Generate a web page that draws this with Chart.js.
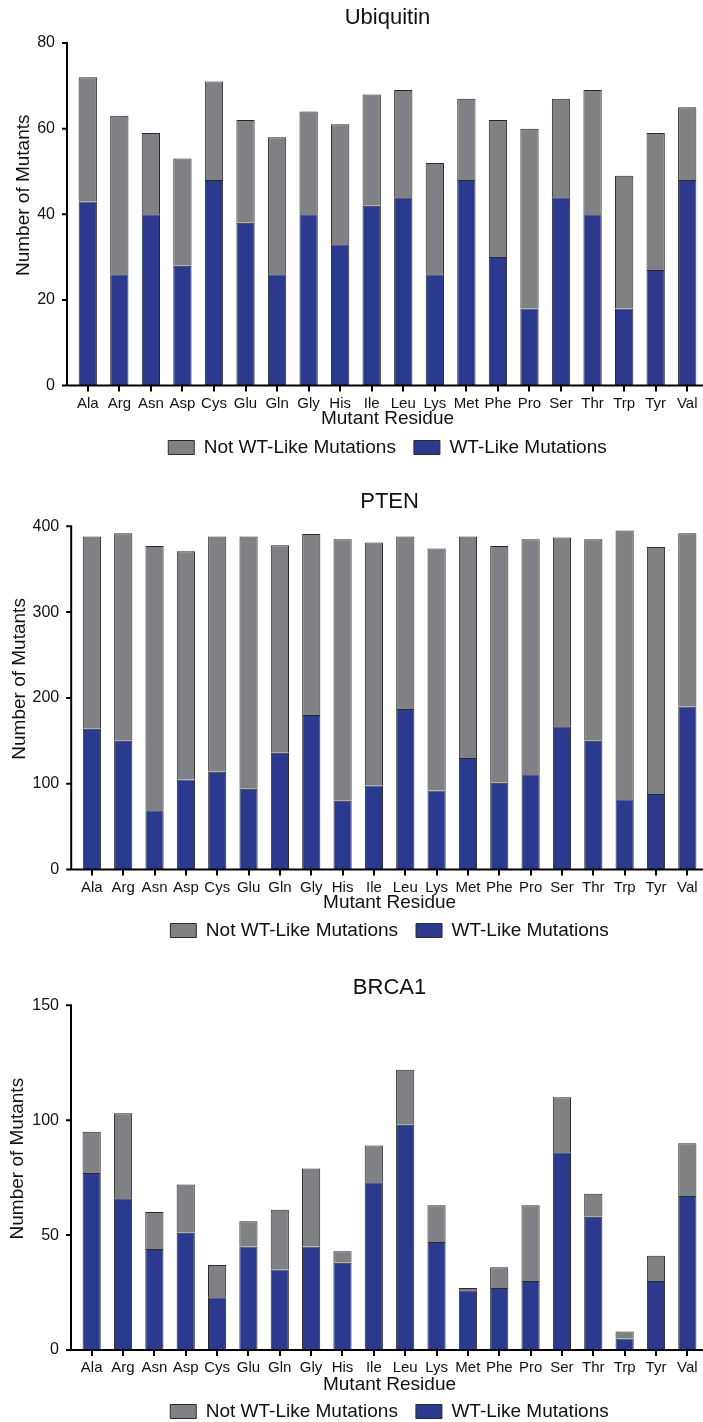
<!DOCTYPE html>
<html>
<head>
<meta charset="utf-8">
<script src="https://cdn.jsdelivr.net/npm/chart.js@4"></script>
<style>
  html, body { margin: 0; padding: 0; background: #fff; overflow: hidden; }
  body { width: 703px; height: 1422px; position: relative; }
  canvas { position: absolute; left: 0; }
</style>
</head>
<body>
<canvas id="ubq" width="703" height="467" style="top:0px"></canvas>
<canvas id="pten" width="703" height="480" style="top:470px"></canvas>
<canvas id="brca" width="703" height="481" style="top:950px"></canvas>
<script>
// Residues on the x axis
const residues = ['Ala', 'Arg', 'Asn', 'Asp', 'Cys', 'Glu', 'Gln', 'Gly', 'His', 'Ile',
  'Leu', 'Lys', 'Met', 'Phe', 'Pro', 'Ser', 'Thr', 'Trp', 'Tyr', 'Val'];

// Ubiquitin
const ubqWT = [43, 26, 40, 28, 48, 38, 26, 40, 33, 42, 44, 26, 48, 30, 18, 44, 40, 18, 27, 48];
const ubqNotWT = [29, 37, 19, 25, 23, 24, 32, 24, 28, 26, 25, 26, 19, 32, 42, 23, 29, 31, 32, 17];
const ubqTicks = [0, 20, 40, 60, 80];

// PTEN
const ptenWT = [164, 150, 69, 105, 114, 94, 136, 180, 80, 98, 187, 92, 130, 101, 111, 167, 150, 82, 88, 190];
const ptenNotWT = [224, 242, 308, 266, 274, 294, 242, 211, 305, 283, 201, 282, 258, 276, 274, 220, 235, 313, 288, 202];
const ptenTicks = [0, 100, 200, 300, 400];

// BRCA1
const brcaWT = [77, 66, 44, 51, 23, 45, 35, 45, 38, 73, 98, 47, 26, 27, 30, 86, 58, 5, 30, 67];
const brcaNotWT = [18, 37, 16, 21, 14, 11, 26, 34, 5, 16, 24, 16, 1, 9, 33, 24, 10, 3, 11, 23];
const brcaTicks = [0, 50, 100, 150];

const BLUE = '#2b3a8f';
const GRAY = '#808184';
const EDGE = '#2a2a2a';
const FONT = "'Liberation Sans', Arial, Helvetica, sans-serif";

// draws the Prism style axes (y axis set a little left of the bars) and the y title
const axesPlugin = {
  id: 'prismAxes',
  afterDraw(chart, args, opts) {
    const ctx = chart.ctx;
    const area = chart.chartArea;
    const y = chart.scales.y;
    const ax = area.left - 5;
    ctx.save();
    ctx.strokeStyle = '#000';
    ctx.lineWidth = 2;
    ctx.beginPath();
    ctx.moveTo(ax, area.top - 1);
    ctx.lineTo(ax, area.bottom);
    ctx.moveTo(ax - 5, area.bottom);
    ctx.lineTo(area.right, area.bottom);
    y.ticks.forEach(t => {
      const py = y.getPixelForValue(t.value);
      ctx.moveTo(ax - 5, py);
      ctx.lineTo(ax, py);
    });
    ctx.stroke();

    ctx.translate(opts.titleX, (area.top + area.bottom) / 2 - 19);
    ctx.rotate(-Math.PI / 2);
    ctx.fillStyle = '#111';
    ctx.font = '19px ' + FONT;
    ctx.textAlign = 'center';
    ctx.textBaseline = 'middle';
    ctx.fillText('Number of Mutants', 0, 0);
    ctx.restore();
  }
};

function makeChart(id, title, wt, notWT, ticks, lay) {
  const ctx = document.getElementById(id).getContext('2d');
  return new Chart(ctx, {
    type: 'bar',
    data: {
      labels: residues,
      datasets: [
        { label: 'WT-Like Mutations', data: wt, backgroundColor: BLUE, borderColor: EDGE, borderWidth: 1 },
        { label: 'Not WT-Like Mutations', data: notWT, backgroundColor: GRAY, borderColor: EDGE, borderWidth: 1 }
      ]
    },
    options: {
      responsive: false,
      animation: false,
      layout: { padding: { top: lay.padTop, left: lay.padLeft, right: 0, bottom: 0 } },
      datasets: { bar: { categoryPercentage: 1, barPercentage: 0.58 } },
      plugins: {
        title: {
          display: true, text: title, fullSize: false, color: '#111',
          font: { family: FONT, size: 22, weight: 'normal', lineHeight: 1 },
          padding: { top: 0, bottom: lay.titleGap }
        },
        legend: {
          position: 'bottom', reverse: true, fullSize: false,
          labels: {
            color: '#111', boxWidth: 26, boxHeight: 14, padding: 18,
            font: { family: FONT, size: 19, lineHeight: 1 }
          }
        },
        tooltip: { enabled: false },
        prismAxes: { titleX: lay.titleX }
      },
      scales: {
        x: {
          stacked: true,
          border: { display: false },
          grid: { display: true, drawOnChartArea: false, offset: false, drawTicks: true, tickLength: 6, color: '#000', lineWidth: 2 },
          ticks: { color: '#111', padding: 4.5, autoSkip: false, maxRotation: 0, font: { family: FONT, size: 15, lineHeight: 1 } },
          title: {
            display: true, text: 'Mutant Residue', color: '#111',
            font: { family: FONT, size: 19, lineHeight: 1 },
            padding: { top: lay.xTitleTop, bottom: lay.xTitleBottom }
          }
        },
        y: {
          stacked: true,
          min: ticks[0], max: ticks[ticks.length - 1],
          afterBuildTicks: s => { s.ticks = ticks.map(v => ({ value: v })); },
          border: { display: false },
          grid: { display: false, drawTicks: false },
          ticks: { color: '#111', padding: 17, font: { family: FONT, size: 16 } }
        }
      }
    },
    plugins: [axesPlugin]
  });
}

makeChart('ubq', 'Ubiquitin', ubqWT, ubqNotWT, ubqTicks,
  { padTop: 6.5, titleGap: 14.5, padLeft: 20.2, titleX: 24, xTitleTop: -6.5, xTitleBottom: -8 });
makeChart('pten', 'PTEN', ptenWT, ptenNotWT, ptenTicks,
  { padTop: 20.5, titleGap: 13.8, padLeft: 15.5, titleX: 19.5, xTitleTop: -6.5, xTitleBottom: -9 });
makeChart('brca', 'BRCA1', brcaWT, brcaNotWT, brcaTicks,
  { padTop: 26.5, titleGap: 6.8, padLeft: 15.3, titleX: 17.5, xTitleTop: -4.5, xTitleBottom: -10.5 });
</script>
</body>
</html>
